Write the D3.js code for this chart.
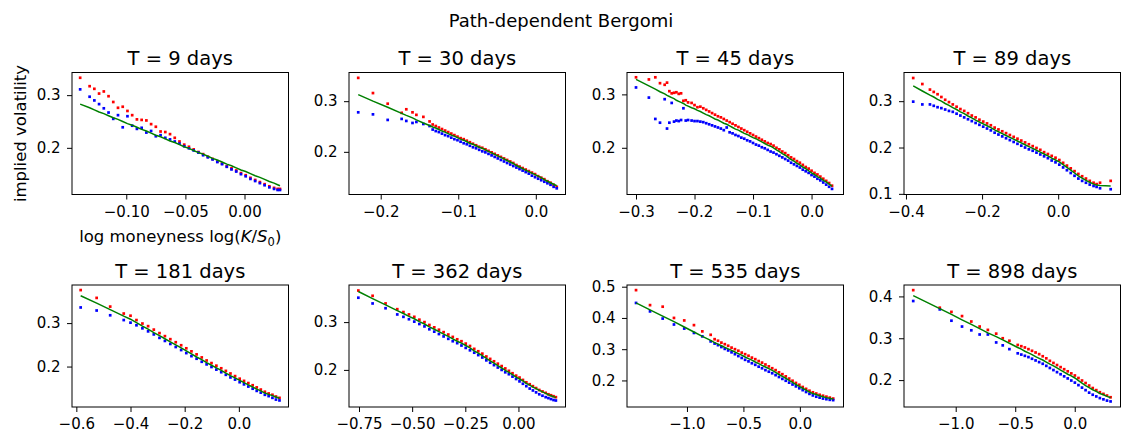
<!DOCTYPE html>
<html>
<head>
<meta charset="utf-8">
<script src="https://cdn.jsdelivr.net/npm/d3@7"></script>
<style>
  html, body { margin: 0; padding: 0; background: #fff; }
  svg { display: block; font-family: "DejaVu Sans", sans-serif; }
</style>
</head>
<body>
<svg id="chart" width="1122" height="439"></svg>
<script>
// ---------------- data ----------------
const suptitle = "Path-dependent Bergomi";
const panelTitles = ["T = 9 days", "T = 30 days", "T = 45 days", "T = 89 days",
                     "T = 181 days", "T = 362 days", "T = 535 days", "T = 898 days"];
const yLabel = "implied volatility";

// T = 9 days
const k9 = [-0.139,-0.131,-0.127,-0.123,-0.119,-0.115,-0.111,-0.107,-0.103,-0.099,-0.095,-0.091,-0.087,-0.083,-0.079,-0.075,-0.071,-0.067,-0.063,-0.059,-0.055,-0.051,-0.047,-0.043,-0.039,-0.035,-0.031,-0.027,-0.023,-0.019,-0.015,-0.011,-0.007,-0.003,0.001,0.005,0.009,0.013,0.017,0.021,0.025,0.028,0.030];
const red9 = [0.333,0.317,0.312,0.303,0.307,0.298,0.287,0.276,0.278,0.270,0.262,0.254,0.253,0.252,0.245,0.240,0.231,0.230,0.226,0.219,0.212,0.206,0.202,0.197,0.192,0.188,0.183,0.179,0.174,0.170,0.165,0.161,0.157,0.152,0.148,0.143,0.139,0.135,0.131,0.127,0.124,0.122,0.122];
const blue9 = [0.311,0.297,0.290,0.283,0.275,0.267,0.255,0.262,0.239,0.260,0.242,0.236,0.238,0.229,0.232,0.222,0.224,0.219,0.216,0.212,0.208,0.203,0.199,0.195,0.191,0.186,0.182,0.178,0.173,0.169,0.164,0.159,0.155,0.150,0.146,0.141,0.137,0.133,0.129,0.125,0.122,0.120,0.120];
const green9 = [0.283,0.276,0.272,0.268,0.265,0.261,0.257,0.254,0.250,0.246,0.243,0.239,0.235,0.232,0.228,0.224,0.221,0.217,0.213,0.210,0.206,0.202,0.199,0.195,0.191,0.188,0.184,0.180,0.177,0.173,0.169,0.166,0.162,0.158,0.155,0.151,0.147,0.144,0.140,0.136,0.133,0.130,0.128];

// T = 30 days
const k30 = [-0.229,-0.210,-0.191,-0.173,-0.167,-0.159,-0.154,-0.145,-0.137,-0.133,-0.129,-0.125,-0.121,-0.117,-0.113,-0.109,-0.105,-0.101,-0.097,-0.093,-0.089,-0.085,-0.081,-0.077,-0.073,-0.069,-0.065,-0.061,-0.057,-0.053,-0.049,-0.045,-0.041,-0.037,-0.033,-0.029,-0.025,-0.021,-0.017,-0.013,-0.009,-0.005,-0.001,0.003,0.007,0.011,0.015,0.019,0.023,0.027];
const red30 = [0.346,0.316,0.295,0.277,0.284,0.278,0.273,0.269,0.260,0.254,0.251,0.248,0.245,0.242,0.239,0.236,0.233,0.230,0.227,0.225,0.222,0.219,0.216,0.213,0.210,0.208,0.205,0.202,0.199,0.196,0.193,0.190,0.187,0.184,0.181,0.178,0.174,0.171,0.168,0.165,0.162,0.159,0.156,0.152,0.149,0.146,0.142,0.139,0.135,0.131];
const blue30 = [0.278,0.274,0.263,0.265,0.261,0.257,0.259,0.255,0.251,0.244,0.241,0.239,0.236,0.233,0.231,0.228,0.225,0.223,0.220,0.217,0.215,0.212,0.209,0.207,0.204,0.201,0.199,0.196,0.193,0.190,0.187,0.184,0.181,0.178,0.175,0.172,0.169,0.166,0.163,0.160,0.157,0.153,0.150,0.147,0.144,0.141,0.138,0.135,0.131,0.128];
const green30 = [0.313,0.300,0.288,0.276,0.272,0.267,0.263,0.257,0.252,0.249,0.247,0.244,0.241,0.239,0.236,0.233,0.231,0.228,0.225,0.223,0.220,0.217,0.215,0.212,0.209,0.207,0.204,0.201,0.198,0.195,0.192,0.189,0.186,0.183,0.180,0.177,0.173,0.170,0.167,0.164,0.161,0.158,0.155,0.152,0.149,0.145,0.142,0.139,0.136,0.133];

// T = 45 days
const k45 = [-0.300,-0.278,-0.267,-0.259,-0.251,-0.247,-0.243,-0.239,-0.235,-0.231,-0.227,-0.223,-0.219,-0.215,-0.211,-0.205,-0.200,-0.195,-0.190,-0.185,-0.180,-0.175,-0.170,-0.165,-0.160,-0.155,-0.150,-0.145,-0.140,-0.135,-0.130,-0.125,-0.120,-0.115,-0.110,-0.105,-0.100,-0.095,-0.090,-0.085,-0.080,-0.075,-0.070,-0.065,-0.060,-0.055,-0.050,-0.045,-0.040,-0.035,-0.030,-0.025,-0.020,-0.015,-0.010,-0.005,0.000,0.005,0.010,0.015,0.020,0.025,0.030,0.035];
const red45 = [0.332,0.328,0.332,0.321,0.318,0.322,0.306,0.302,0.303,0.304,0.301,0.302,0.288,0.289,0.285,0.284,0.280,0.276,0.277,0.274,0.271,0.268,0.265,0.262,0.259,0.257,0.254,0.251,0.248,0.245,0.242,0.239,0.236,0.233,0.230,0.227,0.224,0.221,0.218,0.215,0.212,0.209,0.207,0.204,0.200,0.197,0.193,0.190,0.186,0.182,0.179,0.175,0.172,0.168,0.164,0.161,0.157,0.153,0.150,0.146,0.142,0.138,0.134,0.129];
const blue45 = [0.313,0.294,0.254,0.247,0.291,0.236,0.247,0.284,0.249,0.251,0.250,0.252,0.274,0.251,0.252,0.251,0.250,0.250,0.249,0.248,0.246,0.244,0.242,0.240,0.238,0.236,0.233,0.238,0.229,0.227,0.224,0.222,0.219,0.217,0.214,0.212,0.209,0.206,0.204,0.201,0.199,0.196,0.193,0.191,0.188,0.185,0.182,0.179,0.176,0.172,0.169,0.166,0.163,0.159,0.156,0.153,0.149,0.146,0.142,0.139,0.135,0.131,0.127,0.123];
const green45 = [0.328,0.316,0.310,0.305,0.301,0.298,0.296,0.294,0.292,0.289,0.287,0.285,0.283,0.280,0.278,0.275,0.273,0.270,0.268,0.265,0.262,0.260,0.257,0.254,0.252,0.249,0.246,0.244,0.241,0.238,0.235,0.233,0.230,0.227,0.225,0.222,0.219,0.217,0.214,0.211,0.208,0.205,0.203,0.200,0.196,0.193,0.189,0.186,0.182,0.178,0.175,0.171,0.168,0.164,0.161,0.157,0.153,0.150,0.146,0.143,0.139,0.136,0.132,0.128];

// T = 89 days
const k89 = [-0.381,-0.357,-0.337,-0.327,-0.317,-0.307,-0.297,-0.287,-0.277,-0.267,-0.257,-0.247,-0.237,-0.227,-0.217,-0.207,-0.197,-0.187,-0.177,-0.167,-0.157,-0.147,-0.137,-0.127,-0.117,-0.107,-0.097,-0.087,-0.077,-0.067,-0.057,-0.047,-0.037,-0.027,-0.017,-0.007,0.003,0.013,0.023,0.033,0.043,0.053,0.063,0.073,0.083,0.093,0.101,0.110,0.138];
const red89 = [0.350,0.337,0.325,0.320,0.315,0.309,0.303,0.298,0.293,0.288,0.283,0.279,0.274,0.269,0.265,0.260,0.256,0.252,0.248,0.243,0.239,0.235,0.231,0.227,0.223,0.219,0.215,0.211,0.207,0.203,0.199,0.195,0.190,0.186,0.182,0.178,0.173,0.167,0.161,0.155,0.149,0.143,0.138,0.133,0.128,0.124,0.121,0.124,0.128];
const blue89 = [0.299,0.293,0.293,0.290,0.287,0.285,0.282,0.279,0.277,0.273,0.269,0.265,0.261,0.257,0.253,0.249,0.245,0.241,0.237,0.232,0.228,0.224,0.220,0.216,0.212,0.208,0.204,0.200,0.196,0.193,0.189,0.185,0.181,0.177,0.172,0.168,0.163,0.157,0.151,0.145,0.139,0.133,0.128,0.124,0.120,0.117,0.115,0.112,0.110];
const green89 = [0.333,0.322,0.313,0.309,0.304,0.300,0.295,0.291,0.286,0.282,0.277,0.273,0.268,0.264,0.259,0.255,0.251,0.247,0.243,0.238,0.234,0.230,0.226,0.222,0.218,0.214,0.210,0.206,0.202,0.198,0.194,0.190,0.186,0.182,0.177,0.173,0.169,0.163,0.157,0.151,0.145,0.139,0.134,0.129,0.125,0.121,0.119,0.118,0.117];

// T = 181 days
const k181 = [-0.584,-0.525,-0.475,-0.425,-0.400,-0.378,-0.356,-0.335,-0.314,-0.293,-0.273,-0.253,-0.233,-0.213,-0.194,-0.175,-0.156,-0.137,-0.119,-0.101,-0.083,-0.065,-0.048,-0.031,-0.014,0.003,0.019,0.035,0.051,0.066,0.081,0.096,0.110,0.124,0.137,0.150];
const red181 = [0.376,0.358,0.338,0.322,0.317,0.307,0.299,0.293,0.285,0.277,0.270,0.263,0.256,0.249,0.242,0.235,0.228,0.221,0.214,0.208,0.202,0.196,0.190,0.184,0.178,0.172,0.167,0.162,0.157,0.152,0.147,0.142,0.138,0.135,0.131,0.128];
const blue181 = [0.336,0.329,0.318,0.307,0.301,0.295,0.288,0.281,0.274,0.266,0.259,0.252,0.245,0.238,0.231,0.224,0.218,0.211,0.205,0.199,0.193,0.187,0.181,0.175,0.170,0.164,0.159,0.154,0.149,0.144,0.140,0.135,0.132,0.128,0.124,0.122];
const green181 = [0.363,0.346,0.331,0.316,0.309,0.301,0.293,0.286,0.278,0.271,0.264,0.257,0.250,0.243,0.236,0.229,0.222,0.216,0.209,0.203,0.197,0.191,0.185,0.179,0.174,0.168,0.163,0.158,0.153,0.148,0.144,0.139,0.136,0.133,0.130,0.127];

// T = 362 days
const k362 = [-0.753,-0.686,-0.625,-0.570,-0.541,-0.515,-0.490,-0.466,-0.442,-0.419,-0.396,-0.374,-0.352,-0.330,-0.309,-0.288,-0.268,-0.248,-0.228,-0.208,-0.189,-0.170,-0.151,-0.133,-0.115,-0.097,-0.079,-0.062,-0.045,-0.028,-0.011,0.005,0.021,0.037,0.053,0.068,0.083,0.098,0.113,0.128,0.141,0.153,0.165,0.176];
const red362 = [0.366,0.355,0.339,0.327,0.321,0.316,0.311,0.305,0.300,0.294,0.289,0.284,0.279,0.274,0.269,0.264,0.260,0.255,0.250,0.244,0.239,0.234,0.228,0.223,0.218,0.213,0.208,0.203,0.198,0.193,0.188,0.184,0.179,0.174,0.170,0.166,0.162,0.158,0.155,0.152,0.149,0.147,0.145,0.143];
const blue362 = [0.351,0.339,0.329,0.316,0.311,0.306,0.301,0.296,0.291,0.285,0.280,0.275,0.270,0.265,0.260,0.256,0.251,0.246,0.241,0.236,0.231,0.226,0.220,0.215,0.210,0.205,0.200,0.195,0.191,0.186,0.181,0.176,0.171,0.166,0.161,0.157,0.153,0.149,0.146,0.143,0.141,0.139,0.137,0.136];
const green362 = [0.364,0.349,0.336,0.324,0.318,0.312,0.307,0.301,0.296,0.290,0.285,0.280,0.275,0.270,0.265,0.260,0.256,0.251,0.246,0.240,0.235,0.230,0.224,0.219,0.214,0.209,0.204,0.199,0.195,0.190,0.185,0.181,0.177,0.172,0.168,0.164,0.161,0.157,0.154,0.151,0.148,0.146,0.144,0.142];

// T = 535 days
const k535 = [-1.451,-1.327,-1.215,-1.115,-1.024,-0.938,-0.864,-0.790,-0.755,-0.725,-0.695,-0.665,-0.635,-0.605,-0.575,-0.545,-0.515,-0.485,-0.455,-0.425,-0.395,-0.365,-0.335,-0.305,-0.275,-0.245,-0.215,-0.185,-0.155,-0.125,-0.095,-0.065,-0.035,-0.005,0.025,0.055,0.085,0.115,0.145,0.175,0.205,0.235,0.265,0.295];
const red535 = [0.489,0.441,0.436,0.400,0.392,0.377,0.357,0.346,0.332,0.327,0.321,0.316,0.311,0.305,0.300,0.295,0.289,0.284,0.279,0.273,0.268,0.262,0.257,0.251,0.245,0.239,0.233,0.226,0.220,0.213,0.206,0.199,0.192,0.186,0.179,0.173,0.167,0.162,0.158,0.154,0.151,0.148,0.145,0.142];
const blue535 = [0.448,0.421,0.398,0.379,0.366,0.352,0.341,0.325,0.318,0.313,0.307,0.301,0.296,0.290,0.284,0.278,0.272,0.266,0.261,0.255,0.250,0.244,0.239,0.233,0.228,0.223,0.217,0.211,0.205,0.199,0.193,0.187,0.181,0.175,0.169,0.163,0.157,0.152,0.148,0.145,0.142,0.140,0.138,0.137];
const green535 = [0.448,0.426,0.406,0.388,0.371,0.355,0.341,0.328,0.321,0.316,0.311,0.306,0.301,0.296,0.291,0.286,0.281,0.275,0.270,0.265,0.259,0.254,0.248,0.243,0.238,0.232,0.226,0.219,0.213,0.207,0.200,0.194,0.187,0.181,0.175,0.169,0.163,0.158,0.155,0.151,0.148,0.145,0.143,0.140];

// T = 898 days
const k898 = [-1.357,-1.134,-1.036,-0.947,-0.869,-0.799,-0.730,-0.660,-0.605,-0.549,-0.479,-0.449,-0.419,-0.389,-0.359,-0.329,-0.299,-0.269,-0.239,-0.209,-0.179,-0.149,-0.119,-0.089,-0.059,-0.029,0.001,0.031,0.061,0.091,0.121,0.151,0.181,0.211,0.241,0.271,0.301];
const red898 = [0.415,0.373,0.363,0.353,0.340,0.328,0.320,0.311,0.300,0.294,0.284,0.281,0.278,0.274,0.270,0.266,0.262,0.257,0.252,0.246,0.241,0.236,0.231,0.226,0.221,0.216,0.211,0.205,0.199,0.193,0.187,0.181,0.176,0.171,0.167,0.163,0.159];
const blue898 = [0.389,0.369,0.342,0.328,0.319,0.309,0.309,0.290,0.283,0.274,0.264,0.261,0.258,0.255,0.251,0.247,0.243,0.239,0.234,0.229,0.224,0.219,0.214,0.209,0.204,0.199,0.194,0.188,0.182,0.176,0.170,0.165,0.161,0.157,0.154,0.151,0.149];
const green898 = [0.402,0.371,0.357,0.344,0.333,0.323,0.313,0.304,0.296,0.288,0.278,0.274,0.269,0.265,0.261,0.256,0.252,0.248,0.243,0.238,0.234,0.229,0.224,0.219,0.214,0.210,0.205,0.199,0.193,0.187,0.182,0.177,0.173,0.168,0.165,0.161,0.158];

// axis limits (data units)
const xLims = [[-0.1459,0.0372],[-0.2409,0.0383],[-0.3154,0.0546],[-0.4052,0.1638],
               [-0.616,0.1833],[-0.797,0.2213],[-1.531,0.3864],[-1.4345,0.3844]];
const yLims = [[0.1114,0.343],[0.1158,0.3566],[0.1125,0.341],[0.0986,0.3619],
               [0.1069,0.3877],[0.1224,0.3776],[0.115,0.5054],[0.1357,0.4273]];

// ticks
const xTicks = [[-0.10,-0.05,0.00],[-0.2,-0.1,0.0],[-0.3,-0.2,-0.1,0.0],[-0.4,-0.2,0.0],
                [-0.6,-0.4,-0.2,0.0],[-0.75,-0.50,-0.25,0.00],[-1.0,-0.5,0.0],[-1.0,-0.5,0.0]];
const xTickLabels = [["\u22120.10","\u22120.05","0.00"],["\u22120.2","\u22120.1","0.0"],
                     ["\u22120.3","\u22120.2","\u22120.1","0.0"],["\u22120.4","\u22120.2","0.0"],
                     ["\u22120.6","\u22120.4","\u22120.2","0.0"],["\u22120.75","\u22120.50","\u22120.25","0.00"],
                     ["\u22121.0","\u22120.5","0.0"],["\u22121.0","\u22120.5","0.0"]];
const yTicks = [[0.2,0.3],[0.2,0.3],[0.2,0.3],[0.1,0.2,0.3],
                [0.2,0.3],[0.2,0.3],[0.2,0.3,0.4,0.5],[0.2,0.3,0.4]];
const yTickLabels = [["0.2","0.3"],["0.2","0.3"],["0.2","0.3"],["0.1","0.2","0.3"],
                     ["0.2","0.3"],["0.2","0.3"],["0.2","0.3","0.4","0.5"],["0.2","0.3","0.4"]];

const strikes = [k9,k30,k45,k89,k181,k362,k535,k898];
const reds = [red9,red30,red45,red89,red181,red362,red535,red898];
const blues = [blue9,blue30,blue45,blue89,blue181,blue362,blue535,blue898];
const greens = [green9,green30,green45,green89,green181,green362,green535,green898];

// ---------------- layout ----------------
const colLeft = [72, 349, 627, 904];
const rowTop = [72.5, 285];
const W = 216.5, H = 122;
const tickFont = 15, titleFont = 19.5, labelFont = 16.5;

const svg = d3.select("#chart");
svg.append("rect").attr("width",1122).attr("height",439).attr("fill","#fff");

svg.append("text").attr("x",561).attr("y",27).attr("text-anchor","middle")
  .attr("font-size",18).attr("fill","#000").text(suptitle);

panelTitles.forEach((title, i) => {
  const left = colLeft[i % 4], top = rowTop[Math.floor(i / 4)];
  const g = svg.append("g").attr("transform", `translate(${left},${top})`);
  const x = d3.scaleLinear().domain(xLims[i]).range([0, W]);
  const y = d3.scaleLinear().domain(yLims[i]).range([H, 0]);

  const clipId = "clip" + i;
  g.append("clipPath").attr("id", clipId).append("rect").attr("width", W).attr("height", H);
  const plot = g.append("g").attr("clip-path", `url(#${clipId})`);

  const k = strikes[i];
  const pts = (vals) => k.map((kk, j) => [kk, vals[j]]);
  const ms = 2.7;
  plot.selectAll("rect.red").data(pts(reds[i])).join("rect").attr("class","red")
    .attr("x", d => x(d[0]) - ms/2).attr("y", d => y(d[1]) - ms/2)
    .attr("width", ms).attr("height", ms).attr("fill", "#ff0000");
  plot.selectAll("rect.blue").data(pts(blues[i])).join("rect").attr("class","blue")
    .attr("x", d => x(d[0]) - ms/2).attr("y", d => y(d[1]) - ms/2)
    .attr("width", ms).attr("height", ms).attr("fill", "#0000ff");
  plot.append("path").datum(pts(greens[i]))
    .attr("d", d3.line().x(d => x(d[0])).y(d => y(d[1])))
    .attr("fill","none").attr("stroke","#008000").attr("stroke-width",1.5);

  const xa = g.append("g").attr("transform", `translate(0,${H})`)
    .call(d3.axisBottom(x).tickValues(xTicks[i]).tickFormat((d, j) => xTickLabels[i][j])
      .tickSizeOuter(0).tickSize(5).tickPadding(6.5));
  const ya = g.append("g")
    .call(d3.axisLeft(y).tickValues(yTicks[i]).tickFormat((d, j) => yTickLabels[i][j])
      .tickSizeOuter(0).tickSize(5).tickPadding(6.5));
  [xa, ya].forEach(a => {
    a.select(".domain").remove();
    a.selectAll("line").attr("stroke","#000").attr("stroke-width",1);
    a.selectAll("text").attr("font-size", tickFont).attr("fill","#000")
      .attr("font-family","DejaVu Sans");
  });

  g.append("rect").attr("x",0).attr("y",0).attr("width",W).attr("height",H)
    .attr("fill","none").attr("stroke","#000").attr("stroke-width",1);

  g.append("text").attr("x", W/2).attr("y", -7.5).attr("text-anchor","middle")
    .attr("font-size", titleFont).attr("fill","#000").text(title);

  if (i === 0) {
    g.append("text").attr("transform", `translate(${-46},${H/2}) rotate(-90)`)
      .attr("text-anchor","middle").attr("font-size", labelFont).attr("fill","#000")
      .text(yLabel);
    const xl = g.append("text").attr("x", W/2).attr("y", H + 47.5)
      .attr("text-anchor","middle").attr("font-size", labelFont).attr("fill","#000");
    xl.append("tspan").text("log moneyness log(");
    xl.append("tspan").attr("font-style","italic").text("K");
    xl.append("tspan").text("/");
    xl.append("tspan").attr("font-style","italic").text("S");
    xl.append("tspan").attr("font-size", 11.5).attr("dy", 3.5).text("0");
    xl.append("tspan").attr("dy", -3.5).text(")");
  }
});
</script>
</body>
</html>
